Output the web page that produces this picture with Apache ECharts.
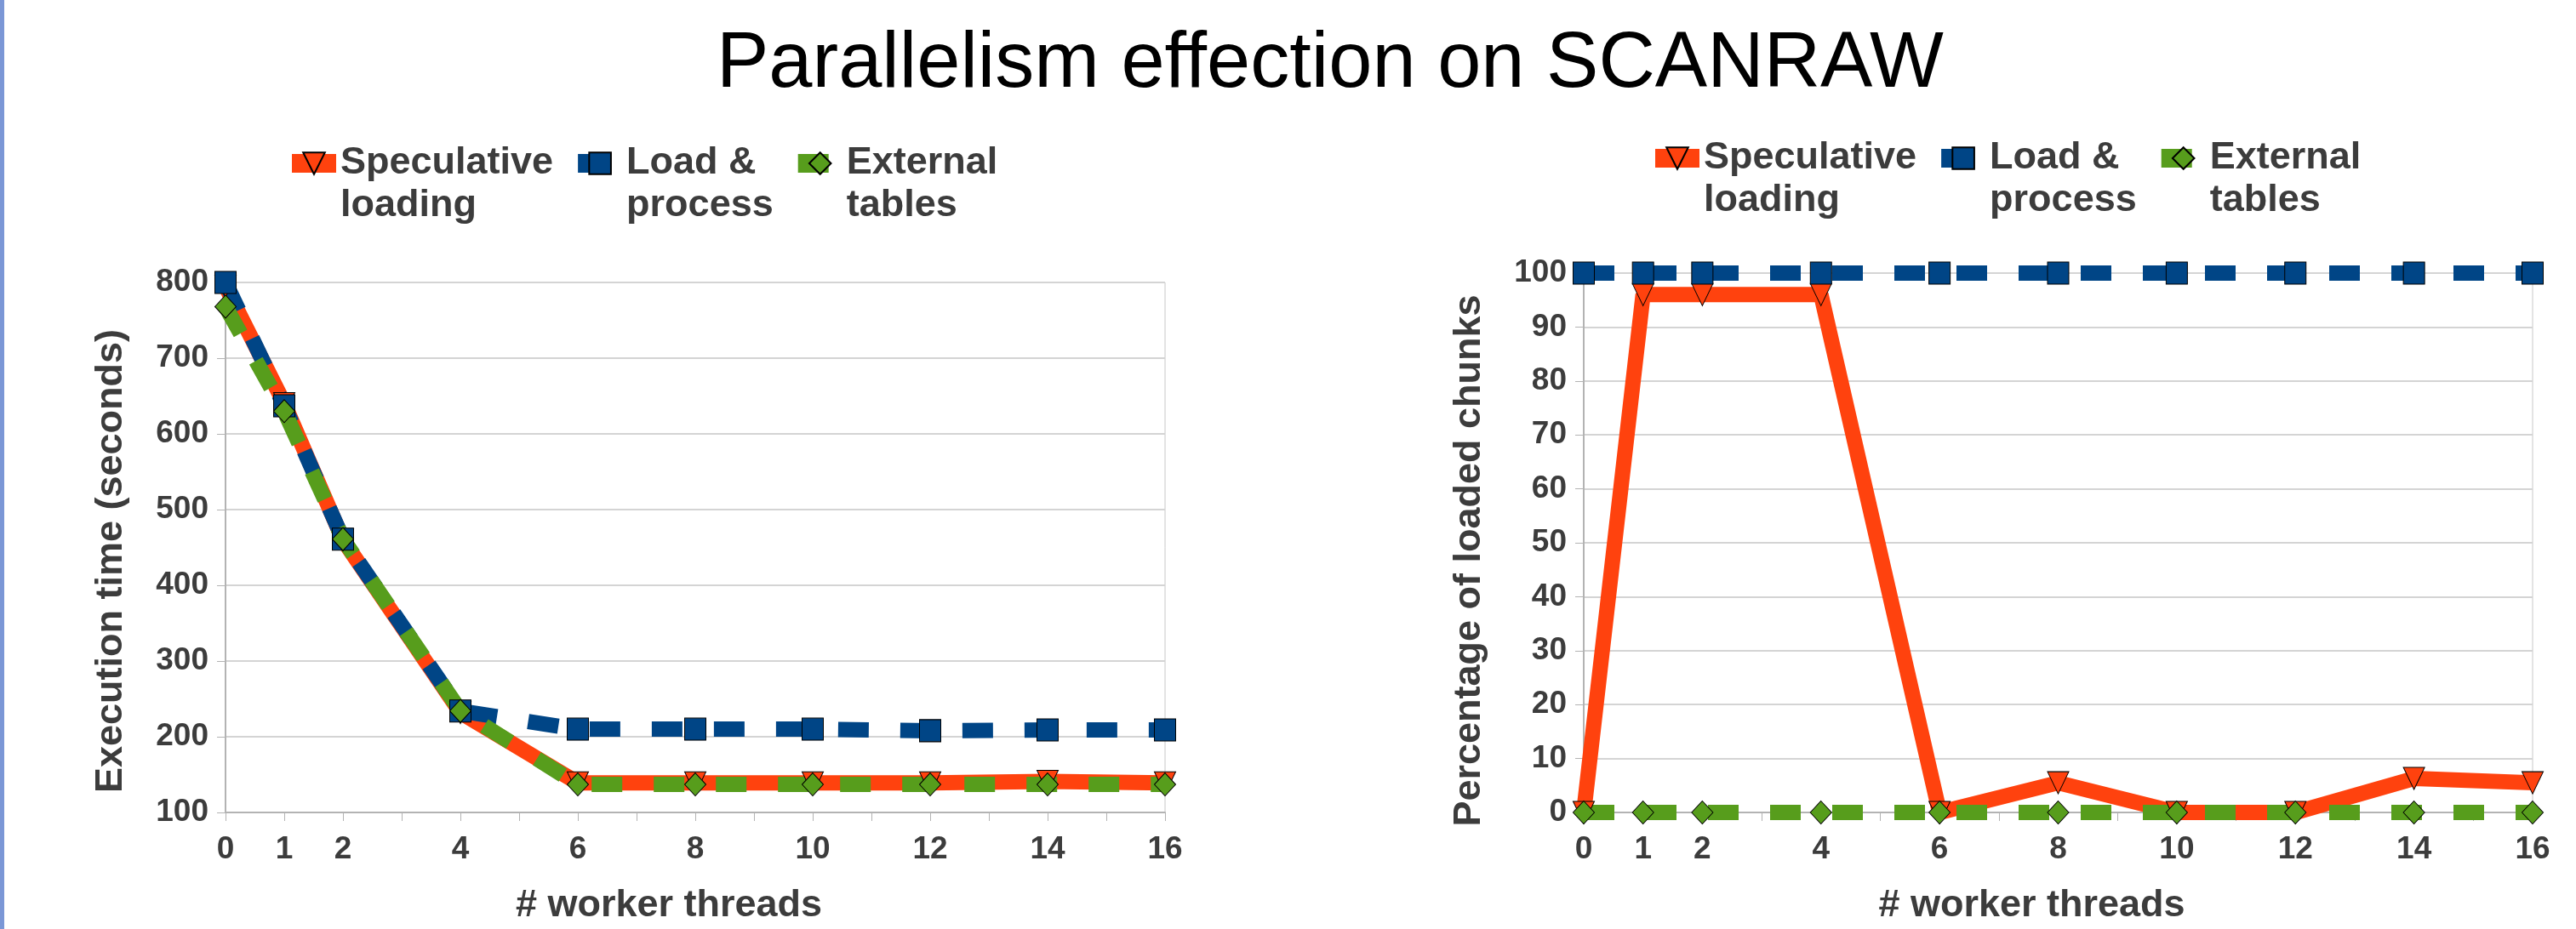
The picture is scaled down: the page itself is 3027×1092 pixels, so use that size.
<!DOCTYPE html>
<html>
<head>
<meta charset="utf-8">
<title>Parallelism effection on SCANRAW</title>
<script src="https://cdn.jsdelivr.net/npm/echarts@6/dist/echarts.min.js"></script>
<style>
  html, body { margin: 0; padding: 0; background: #fff; }
  #chart { width: 3027px; height: 1092px; }
</style>
</head>
<body>
<div id="chart"></div>
<script>
// worker threads on the x axis
const threads = [0, 1, 2, 4, 6, 8, 10, 12, 14, 16];

// left chart: execution time (seconds)
const timeSpeculative = [795, 640, 460, 232, 139, 139, 139, 139, 141, 139];
const timeLoadProcess = [800, 637, 461, 234, 210, 210, 210, 208, 209, 209];
const timeExternal = [768, 630, 461, 234, 137, 137, 137, 137, 137, 137];

// right chart: percentage of loaded chunks
const pctSpeculative = [0, 96, 96, 96, 0, 5.5, 0, 0, 6.3, 5.5];
const pctLoadProcess = [100, 100, 100, 100, 100, 100, 100, 100, 100, 100];
const pctExternal = [0, 0, 0, 0, 0, 0, 0, 0, 0, 0];

const seriesNames = ['Speculative\nloading', 'Load &\nprocess', 'External\ntables'];
const xLabels = [0, 1, 2, 4, 6, 8, 10, 12, 14, 16];

const FONT = '"Liberation Sans", Arial, sans-serif';
const TEXT = '#3c3c3c';
const COLORS = ['#ff420e', '#004586', '#579d1c'];

function pairs(values) {
  return threads.map((t, i) => [t, values[i]]);
}

function makeSeries(idx, values, axis) {
  const base = {
    name: seriesNames[idx],
    type: 'line',
    xAxisIndex: axis,
    yAxisIndex: axis,
    data: pairs(values),
    itemStyle: { color: COLORS[idx], borderColor: '#000', borderWidth: 1 },
    lineStyle: { color: COLORS[idx], width: 18, cap: 'butt' },
    emphasis: { disabled: true },
  };
  if (idx === 0) {
    base.symbol = 'triangle';
    base.symbolRotate = 180;
    base.symbolSize = [25, 26];
  } else if (idx === 1) {
    base.symbol = 'rect';
    base.symbolSize = [25, 26];
    base.lineStyle.type = [36, 37];
  } else {
    base.symbol = 'diamond';
    base.symbolSize = [25, 27];
    base.lineStyle.type = [36, 37];
  }
  return base;
}

function xAxisCfg(gridIndex) {
  return {
    type: 'value',
    gridIndex,
    min: 0,
    max: 16,
    interval: 1,
    name: '# worker threads',
    nameLocation: 'middle',
    nameGap: 87,
    nameTextStyle: {
      fontFamily: FONT, fontSize: 45, fontWeight: 'bold', color: TEXT,
      padding: [0, 62, 0, 0],
    },
    axisLine: { lineStyle: { color: '#b3b3b3', width: 2 } },
    axisTick: { show: true, length: 10, lineStyle: { color: '#b3b3b3', width: 1 } },
    axisLabel: {
      margin: 25,
      fontFamily: FONT, fontSize: 37, fontWeight: 'bold', color: TEXT,
      formatter: (v) => (xLabels.indexOf(v) >= 0 ? String(v) : ''),
    },
    splitLine: { show: false },
  };
}

function yAxisCfg(gridIndex, name, min, max, interval, padRight) {
  return {
    type: 'value',
    gridIndex,
    min,
    max,
    interval,
    name,
    nameLocation: 'middle',
    nameGap: 112,
    nameTextStyle: {
      fontFamily: FONT, fontSize: 45, fontWeight: 'bold', color: TEXT,
      padding: [0, padRight, 0, 0],
    },
    axisLine: { show: true, lineStyle: { color: '#b3b3b3', width: 2 } },
    axisTick: { show: true, length: 10, lineStyle: { color: '#b3b3b3', width: 1 } },
    axisLabel: {
      margin: 20,
      fontFamily: FONT, fontSize: 37, fontWeight: 'bold', color: TEXT,
    },
    splitLine: { show: true, lineStyle: { color: '#d4d4d4', width: 2 } },
  };
}

function legendCfg(left, top) {
  return {
    left,
    top,
    orient: 'horizontal',
    itemWidth: 52,
    itemHeight: 32,
    itemGap: 18,
    data: seriesNames,
    selectedMode: false,
    lineStyle: { width: 22 },
    // blank first line so the icon sits beside the first text line
    formatter: (name) => '\n' + name,
    textStyle: {
      fontFamily: FONT, fontSize: 45, fontWeight: 'bold', color: TEXT,
      lineHeight: 50,
    },
  };
}

const chart = echarts.init(document.getElementById('chart'));

chart.setOption({
  animation: false,
  backgroundColor: '#fff',
  title: {
    text: 'Parallelism effection on SCANRAW',
    left: 837,
    top: 26,
    textStyle: { fontFamily: FONT, fontSize: 92, fontWeight: 'normal', color: '#000' },
  },
  legend: [legendCfg(327, 112), legendCfg(1929, 106)],
  grid: [
    { left: 265, right: 1658, top: 332, bottom: 133, show: true, borderColor: '#c8c8c8', borderWidth: 1 },
    { left: 1861, right: 51, top: 321, bottom: 134, show: true, borderColor: '#c8c8c8', borderWidth: 1 },
  ],
  xAxis: [xAxisCfg(0), xAxisCfg(1)],
  yAxis: [
    yAxisCfg(0, 'Execution time (seconds)', 100, 800, 100, 32),
    yAxisCfg(1, 'Percentage of loaded chunks', 0, 100, 10, 42),
  ],
  graphic: [{
    type: 'rect',
    left: 0,
    top: 0,
    shape: { width: 5, height: 1092 },
    style: { fill: '#7b97d6' },
  }],
  series: [
    makeSeries(0, timeSpeculative, 0),
    makeSeries(1, timeLoadProcess, 0),
    makeSeries(2, timeExternal, 0),
    makeSeries(0, pctSpeculative, 1),
    makeSeries(1, pctLoadProcess, 1),
    makeSeries(2, pctExternal, 1),
  ],
});
</script>
</body>
</html>
